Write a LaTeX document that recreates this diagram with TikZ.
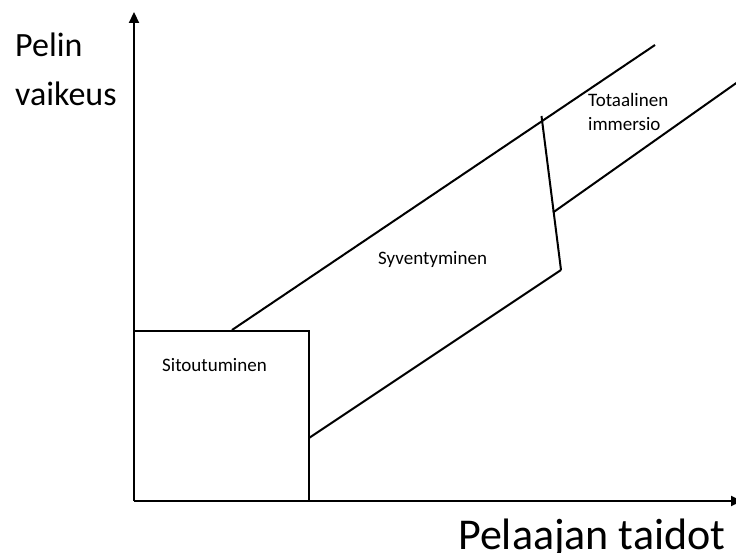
\documentclass[tikz,border=0pt]{standalone}
\usepackage{fontspec}
\setmainfont{Carlito}
\usetikzlibrary{arrows.meta}
\begin{document}
\begin{tikzpicture}[x=1pt,y=-1pt,
  ln/.style={line width=2pt,black},
  ax/.style={line width=2.2pt,black,-{Triangle[length=11pt,width=10pt]}},
  big/.style={font=\fontsize{34}{40}\selectfont,anchor=base west,inner sep=0pt},
  huge/.style={font=\fontsize{44}{50}\selectfont,anchor=base west,inner sep=0pt},
  small/.style={font=\fontsize{19}{23}\selectfont,anchor=base west,inner sep=0pt}]
\useasboundingbox (0,0) rectangle (736,553);
\coordinate (O) at (134,501);
\coordinate (ytip) at (134,12);
\coordinate (xtip) at (742,501);
\draw[ax] (O) -- (ytip);
\draw[ax] (O) -- (xtip);
% box
\coordinate (bTL) at (134,331);
\coordinate (bTR) at (309,331);
\coordinate (bBR) at (309,501);
\draw[ln] (bTL) -- (bTR) -- (bBR);
% upper line
\coordinate (u1) at (232,330);
\coordinate (u2) at (655,45);
\draw[ln] (u1) -- (u2);
% lower line
\coordinate (l1) at (309,438);
\coordinate (l2) at (561,270);
\draw[ln] (l1) -- (l2);
% vertical
\coordinate (v1) at (541.5,116);
\draw[ln] (v1) -- (l2);
% right line
\coordinate (r1) at (553,212.5);
\coordinate (r2) at (737,82.5);
\draw[ln] (r1) -- (r2);
% labels
\node[big] (pelin) at (15,57) {Pelin};
\node[big] (vaik) at (15,106) {vaikeus};
\node[huge] (taid) at (458,549) {Pelaajan taidot};
\node[small] (sit) at (162,371) {Sitoutuminen};
\node[small] (syv) at (378,264.5) {Syventyminen};
\node[small] (tot) at (588,107) {Totaalinen};
\node[small] (imm) at (588,130.5) {immersio};
\end{tikzpicture}
\end{document}
